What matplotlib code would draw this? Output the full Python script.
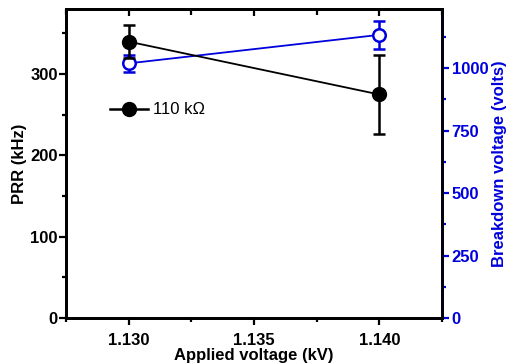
import matplotlib
matplotlib.use('Agg')
from matplotlib import pyplot as plt
from matplotlib.ticker import MultipleLocator
from matplotlib.lines import Line2D

plt.rcParams['font.family'] = ['Liberation Sans', 'DejaVu Sans']

voltage = [1.130, 1.140]
prr = [340, 275]
prr_err = [20, 48]
breakdown = [1019, 1133]
breakdown_err = [34, 57]
BLUE = '#0000dd'

fig = plt.figure(figsize=(5.08, 3.64), dpi=100)
ax = fig.add_axes([0.130, 0.126, 0.740, 0.849])
ax2 = ax.twinx()

ax.errorbar(voltage, prr, yerr=prr_err, color='black', marker='o', markersize=10,
            lw=1.3, elinewidth=1.8, capsize=4, capthick=1.8, zorder=3)
ax2.errorbar(voltage, breakdown, yerr=breakdown_err, color=BLUE, marker='o', markersize=9,
             mfc='white', mec=BLUE, mew=1.8, lw=1.3, elinewidth=1.8, capsize=4, capthick=1.8)

ax.set_xlim(1.1275, 1.1425)
ax.set_ylim(0, 380)
ax2.set_ylim(0, 1236)

ax.set_xticks([1.130, 1.135, 1.140])
ax.set_xticklabels(['1.130', '1.135', '1.140'])
ax.xaxis.set_minor_locator(MultipleLocator(0.0025))
ax.yaxis.set_major_locator(MultipleLocator(100))
ax.yaxis.set_minor_locator(MultipleLocator(50))
ax2.yaxis.set_major_locator(MultipleLocator(250))
ax2.yaxis.set_minor_locator(MultipleLocator(125))

for a in (ax, ax2):
    for s in a.spines.values():
        s.set_linewidth(2)
ax2.spines['right'].set_color(BLUE)

# bottom ticks out, top ticks in
ax.tick_params(axis='x', which='both', direction='out', width=1.6, labelsize=12, pad=6)
ax.tick_params(axis='x', which='major', length=5)
ax.tick_params(axis='x', which='minor', length=3)
sec = ax.secondary_xaxis('top')
sec.set_xticks([1.130, 1.135, 1.140])
sec.xaxis.set_minor_locator(MultipleLocator(0.0025))
sec.tick_params(axis='x', which='both', direction='in', width=1.6, labeltop=False)
sec.tick_params(axis='x', which='major', length=5)
sec.tick_params(axis='x', which='minor', length=4)
sec.spines['top'].set_linewidth(2)

ax.tick_params(axis='y', which='major', direction='out', length=5, width=1.6, labelsize=12, pad=1)
ax.tick_params(axis='y', which='minor', direction='out', length=3, width=1.6)
ax2.tick_params(axis='y', which='major', direction='out', length=5, width=1.6, labelsize=12,
                colors=BLUE, pad=2)
ax2.tick_params(axis='y', which='minor', direction='out', length=3, width=1.6, colors=BLUE)

for lab in ax.get_xticklabels() + ax.get_yticklabels() + ax2.get_yticklabels():
    lab.set_fontweight('bold')

ax.set_xlabel('Applied voltage (kV)', fontsize=12, fontweight='bold', labelpad=0)
ax.set_ylabel('PRR (kHz)', fontsize=12, fontweight='bold', labelpad=2)
ax2.set_ylabel('Breakdown voltage (volts)', fontsize=12, fontweight='bold', color=BLUE, labelpad=3)

handle = Line2D([], [], color='black', marker='o', markersize=10, lw=1.8)
ax.legend([handle], ['110 k\u03a9'], loc='upper left', bbox_to_anchor=(0.095, 0.725),
          frameon=False, fontsize=12, handlelength=2.3, handletextpad=0.3, borderpad=0)

ax.set_zorder(ax2.get_zorder() + 1)
ax.patch.set_visible(False)

fig.savefig('out.png', dpi=100)
